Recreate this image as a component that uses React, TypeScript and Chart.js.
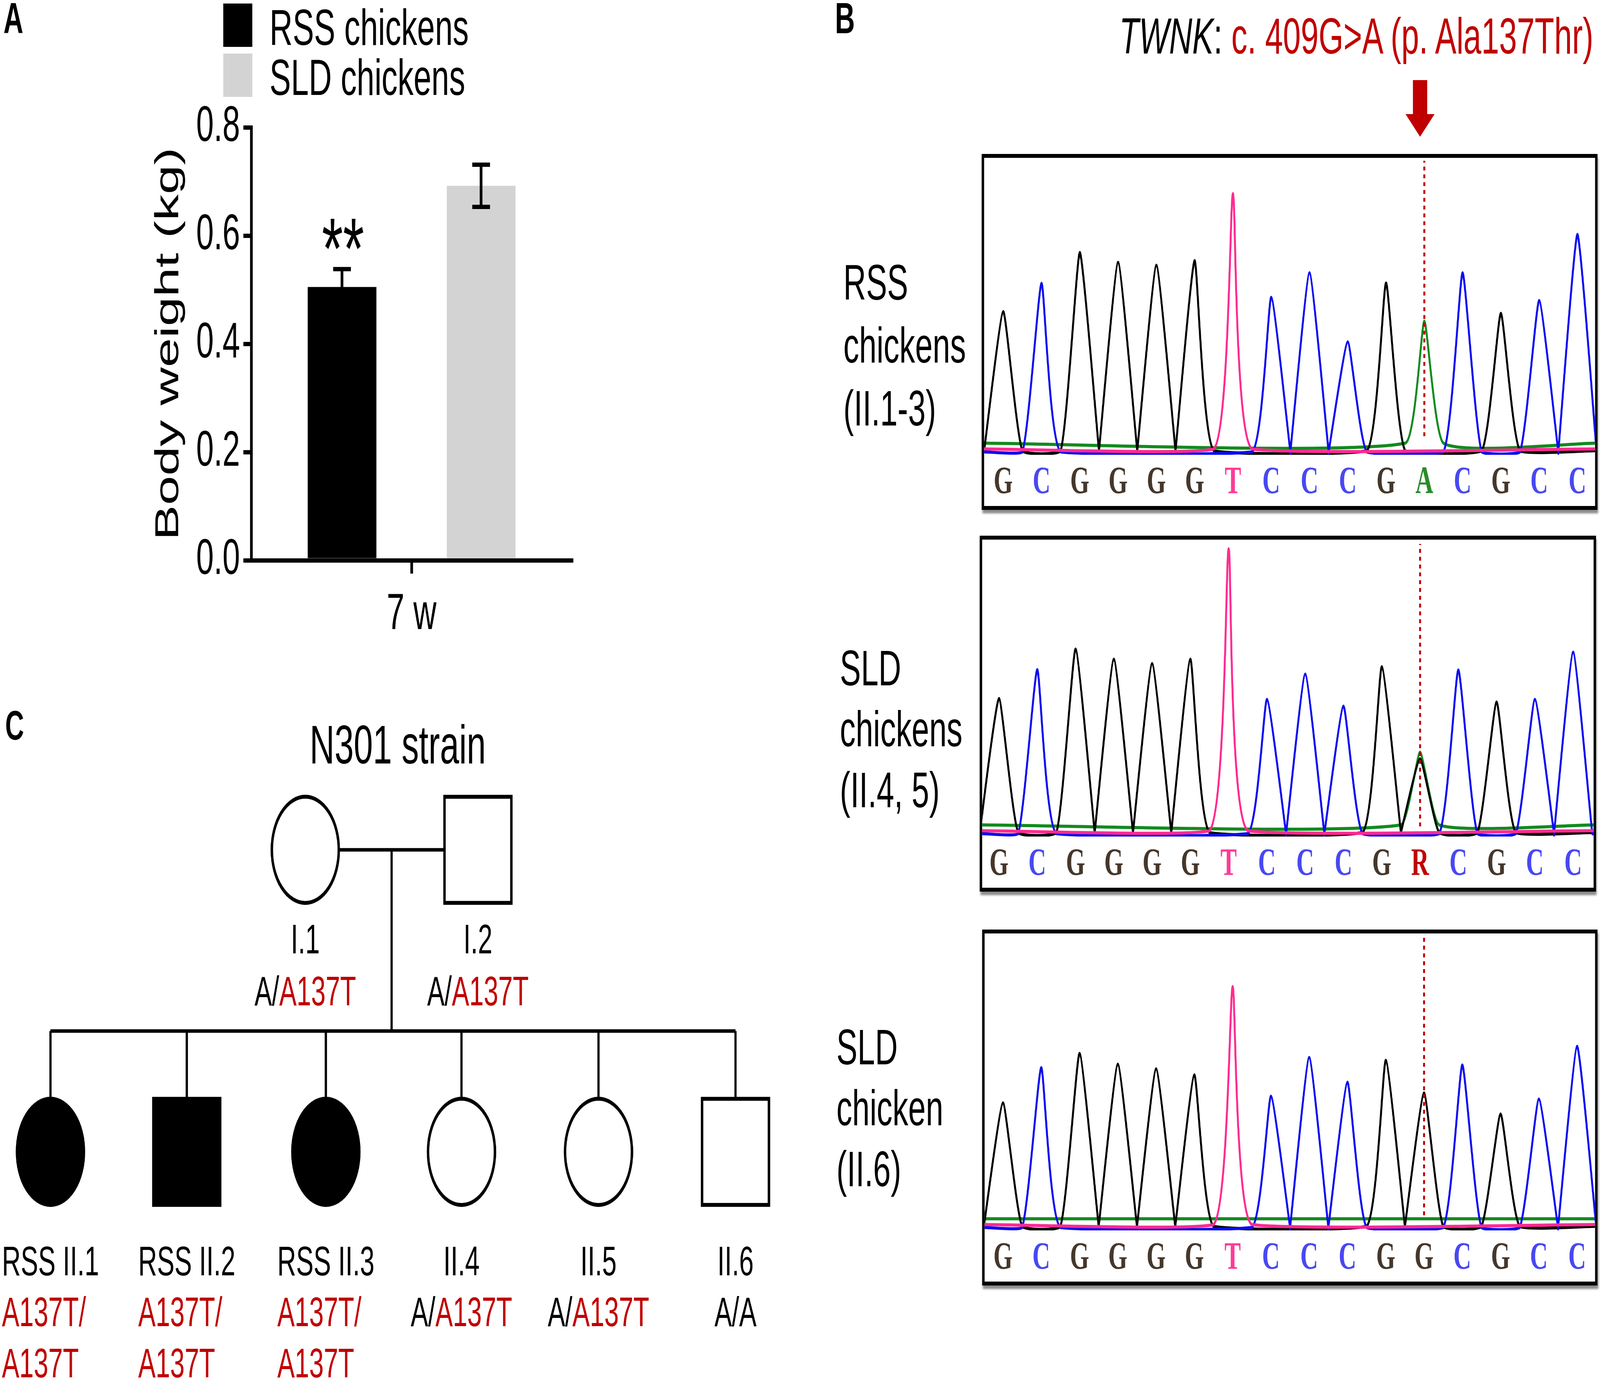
import React, { useEffect, useRef } from 'react';
import { Chart, registerables } from 'chart.js';
Chart.register(...registerables);

const PAGE_W = 6500;
const PAGE_H = 3537;
const SANS = '"Liberation Sans", Arial, Helvetica, sans-serif';
const SERIF = '"Liberation Serif", "Times New Roman", serif';
const RED = '#c00000';

// ---------------- Panel A data ----------------
const ageCategories = ['7 w'];
const groupLabels = ['RSS chickens', 'SLD chickens'];
const rssWeight = [0.505];
const rssSem = [0.033];
const sldWeight = [0.692];
const sldSem = [0.039];
const weightTicks = [0, 0.2, 0.4, 0.6, 0.8];
const significanceMark = '**';

// ---------------- Panel B data ----------------
const rssCalls = ['G', 'C', 'G', 'G', 'G', 'G', 'T', 'C', 'C', 'C', 'G', 'A', 'C', 'G', 'C', 'C'];
const rssPeakBases = ['G', 'C', 'G', 'G', 'G', 'G', 'T', 'C', 'C', 'C', 'G', 'A', 'C', 'G', 'C', 'C'];
const rssPeakHeights = [472, 569, 675, 641, 631, 647, 877, 521, 605, 368, 570, 439, 605, 466, 510, 737];

const sldHetCalls = ['G', 'C', 'G', 'G', 'G', 'G', 'T', 'C', 'C', 'C', 'G', 'R', 'C', 'G', 'C', 'C'];
const sldHetPeakBases = ['G', 'C', 'G', 'G', 'G', 'G', 'T', 'C', 'C', 'C', 'G', 'A', 'C', 'G', 'C', 'C'];
const sldHetPeakHeights = [454, 553, 624, 589, 574, 589, 968, 451, 538, 428, 563, 270, 552, 442, 451, 613];
const sldHetMinorBases = ['G'];
const sldHetMinorIndex = [11];
const sldHetMinorHeights = [247];

const sldWtCalls = ['G', 'C', 'G', 'G', 'G', 'G', 'T', 'C', 'C', 'C', 'G', 'G', 'C', 'G', 'C', 'C'];
const sldWtPeakBases = ['G', 'C', 'G', 'G', 'G', 'G', 'T', 'C', 'C', 'C', 'G', 'G', 'C', 'G', 'C', 'C'];
const sldWtPeakHeights = [418, 539, 588, 551, 535, 514, 817, 441, 574, 489, 564, 452, 548, 380, 431, 612];

const variantIndex = 11;
const sampleLabels = [
  ['RSS', 'chickens', '(II.1-3)'],
  ['SLD', 'chickens', '(II.4, 5)'],
  ['SLD', 'chicken', '(II.6)'],
];

// ---------------- Panel C data ----------------
const pedIds = ['I.1', 'I.2', 'II.1', 'II.2', 'II.3', 'II.4', 'II.5', 'II.6'];
const pedSex = ['F', 'M', 'F', 'M', 'F', 'F', 'F', 'M'];
const pedAffected = [false, false, true, true, true, false, false, false];
const pedGeneration = [1, 1, 2, 2, 2, 2, 2, 2];
const pedSlot = [1.86, 3.12, 0, 0.995, 2.01, 3.0, 4.0, 5.0];
const pedGenotype = [
  ['A', 'A137T'], ['A', 'A137T'],
  ['A137T', 'A137T'], ['A137T', 'A137T'], ['A137T', 'A137T'],
  ['A', 'A137T'], ['A', 'A137T'], ['A', 'A'],
];

// ---------------- styles ----------------
const traceColor: Record<string, string> = { G: '#000000', C: '#0c0cf0', T: '#ff2a92', A: '#138a1f' };
const letterColor: Record<string, string> = { G: '#45372b', C: '#4848f2', T: '#ff3a98', A: '#2a8c2a', R: RED };
const traceLevel: Record<string, number> = { G: -6, C: -10, T: 0, A: 20 };
const traceDrawOrder = ['T', 'C', 'G', 'A'];

const boxLayout = [
  { left: 3988, top: 394, width: 2502, xmin: -0.5, markTop: 990, markBottom: 44, labelLeft: 3426, labelBase: 767, lineGap: 161 },
  { left: 3980, top: 1371, width: 2504, xmin: -0.44, markTop: 985, markBottom: 15, labelLeft: 3412, labelBase: 1754, lineGap: 156 },
  { left: 3990, top: 2379, width: 2500, xmin: -0.48, markTop: 985, markBottom: 32, labelLeft: 3398, labelBase: 2724, lineGap: 156 },
];
const BOX_H = 911;
const BORDER = 10;

function Txt(props: any) {
  const { x, y, size, align = 'left', weight = 'normal', family = SANS, children, color = '#000' } = props;
  const transform = align === 'center' ? 'translateX(-50%)' : align === 'right' ? 'translateX(-100%)' : undefined;
  return (
    <div
      style={{
        position: 'absolute', left: x, top: y - 0.8465 * size, fontSize: size, lineHeight: `${size}px`,
        fontFamily: family, fontWeight: weight, whiteSpace: 'nowrap', transform, color,
      }}
    >
      {children}
    </div>
  );
}

function buildTrace(base: string, peakBases: string[], heights: number[], minorB: string[], minorI: number[], minorH: number[], xmin: number, xmax: number) {
  const lvl = traceLevel[base];
  const peaks: { i: number; h: number }[] = [];
  peakBases.forEach((b, i) => { if (b === base) peaks.push({ i, h: heights[i] }); });
  minorB.forEach((b, k) => { if (b === base) peaks.push({ i: minorI[k], h: minorH[k] }); });
  peaks.sort((a, b) => a.i - b.i);
  const pts: { x: number; y: number }[] = [{ x: xmin, y: lvl }];
  peaks.forEach((p) => {
    pts.push({ x: p.i - 0.5, y: lvl });
    pts.push({ x: p.i, y: p.h });
    pts.push({ x: p.i + 0.5, y: lvl });
  });
  pts.push({ x: xmax, y: lvl });
  return pts;
}

export default function App() {
  const aRef = useRef<HTMLCanvasElement>(null);
  const b0 = useRef<HTMLCanvasElement>(null);
  const b1 = useRef<HTMLCanvasElement>(null);
  const b2 = useRef<HTMLCanvasElement>(null);
  const cRef = useRef<HTMLCanvasElement>(null);

  const vw = typeof window !== 'undefined' && window.innerWidth ? window.innerWidth : PAGE_W;
  const vh = typeof window !== 'undefined' && window.innerHeight ? window.innerHeight : PAGE_H;
  const sx = vw / PAGE_W;
  const sy = vh / PAGE_H;

  useEffect(() => {
    const charts: Chart[] = [];

    // ---------- Panel A ----------
    const errorBarPlugin = {
      id: 'errorBars',
      afterDatasetsDraw(chart: any) {
        const { ctx } = chart;
        const y = chart.scales.y;
        chart.data.datasets.forEach((ds: any, di: number) => {
          const meta = chart.getDatasetMeta(di);
          meta.data.forEach((bar: any, i: number) => {
            const m = ds.data[i];
            const e = ds.errors[i];
            const yt = y.getPixelForValue(m + e);
            const yb = y.getPixelForValue(m - e);
            ctx.save();
            ctx.strokeStyle = '#000';
            ctx.lineWidth = 11;
            ctx.beginPath();
            ctx.moveTo(bar.x, yb); ctx.lineTo(bar.x, yt);
            ctx.moveTo(bar.x - 36, yt); ctx.lineTo(bar.x + 36, yt);
            ctx.moveTo(bar.x - 36, yb); ctx.lineTo(bar.x + 36, yb);
            ctx.stroke();
            ctx.restore();
          });
        });
        const bar0 = chart.getDatasetMeta(0).data[0];
        const ytop = y.getPixelForValue(rssWeight[0] + rssSem[0]);
        ctx.save();
        ctx.font = `220px ${SANS}`;
        ctx.fillStyle = '#000';
        ctx.textAlign = 'center';
        ctx.textBaseline = 'alphabetic';
        ctx.fillText(significanceMark, bar0.x + 4, ytop + 23);
        ctx.restore();
      },
    };

    charts.push(new Chart(aRef.current!, {
      type: 'bar',
      data: {
        labels: ageCategories,
        datasets: [
          { label: groupLabels[0], data: rssWeight, errors: rssSem, backgroundColor: '#000000', categoryPercentage: 0.868, barPercentage: 0.494 } as any,
          { label: groupLabels[1], data: sldWeight, errors: sldSem, backgroundColor: '#d3d3d3', categoryPercentage: 0.868, barPercentage: 0.494 } as any,
        ],
      },
      options: {
        animation: false,
        responsive: false,
        devicePixelRatio: 1,
        layout: { autoPadding: false, padding: { left: 606, top: 326, right: 77, bottom: 66 } },
        plugins: { legend: { display: false }, tooltip: { enabled: false }, title: { display: false } },
        scales: {
          x: {
            grid: { display: true, offset: false, drawOnChartArea: false, drawTicks: true, tickLength: 34, lineWidth: 11, color: '#000' },
            border: { display: true, width: 11, color: '#000' },
            ticks: { font: { family: SANS, size: 130 }, color: '#000', padding: 28 },
            afterFit: (sc: any) => { sc.height = 200; },
          },
          y: {
            min: 0,
            max: 0.8,
            afterBuildTicks: (sc: any) => { sc.ticks = weightTicks.map((v) => ({ value: v })); },
            ticks: { font: { family: SANS, size: 128 }, color: '#000', padding: 14, callback: (v: any) => Number(v).toFixed(1) },
            grid: { display: true, drawOnChartArea: false, drawTicks: true, tickLength: 32, lineWidth: 11, color: '#000' },
            border: { display: true, width: 11, color: '#000' },
            title: { display: true, text: 'Body weight (kg)', font: { family: SANS, size: 135 }, color: '#000', padding: { top: 0, bottom: 0 } },
            afterFit: (sc: any) => { sc.width = 415; },
          },
        },
      } as any,
      plugins: [errorBarPlugin],
    }));

    // ---------- Panel B ----------
    const samples = [
      { calls: rssCalls, bases: rssPeakBases, heights: rssPeakHeights, mb: [] as string[], mi: [] as number[], mh: [] as number[] },
      { calls: sldHetCalls, bases: sldHetPeakBases, heights: sldHetPeakHeights, mb: sldHetMinorBases, mi: sldHetMinorIndex, mh: sldHetMinorHeights },
      { calls: sldWtCalls, bases: sldWtPeakBases, heights: sldWtPeakHeights, mb: [] as string[], mi: [] as number[], mh: [] as number[] },
    ];
    [b0, b1, b2].forEach((ref, k) => {
      const smp = samples[k];
      const L = boxLayout[k];
      const innerW = L.width - 2 * BORDER;
      const spacing = 155.5;
      const xmin = L.xmin;
      const xmax = xmin + innerW / spacing;
      const datasets: any[] = [
        {
          data: [{ x: variantIndex, y: L.markBottom }, { x: variantIndex, y: L.markTop }],
          borderColor: RED, borderWidth: 8, borderDash: [10, 10], showLine: true, pointRadius: 0,
        },
      ];
      traceDrawOrder.forEach((b) => {
        datasets.push({
          data: buildTrace(b, smp.bases, smp.heights, smp.mb, smp.mi, smp.mh, xmin, xmax),
          borderColor: traceColor[b], borderWidth: 8, showLine: true, pointRadius: 0, tension: 0.15,
        });
      });
      charts.push(new Chart(ref.current!, {
        type: 'scatter',
        data: { datasets },
        options: {
          animation: false,
          responsive: false,
          devicePixelRatio: 1,
          layout: { autoPadding: false, padding: 0 },
          plugins: { legend: { display: false }, tooltip: { enabled: false } },
          scales: {
            x: {
              type: 'linear', min: xmin, max: xmax,
              grid: { display: false, drawTicks: false },
              border: { display: false },
              afterBuildTicks: (sc: any) => { sc.ticks = smp.calls.map((_, i) => ({ value: i })); },
              afterFit: (sc: any) => { sc.height = 131; },
              ticks: {
                autoSkip: false, maxRotation: 0, padding: 12,
                font: { family: SERIF, size: 100, weight: 'bold' },
                color: (ctx: any) => letterColor[smp.calls[ctx.index]] || '#000',
                callback: (v: any) => smp.calls[Math.round(v)],
              },
            },
            y: { display: false, min: -20, max: 1000 },
          },
        } as any,
      }));
    });

    // ---------- Panel C ----------
    const colorOf = (a: string) => (a === 'A' ? '#000' : RED);
    const genotypeLines = (g: string[]) => {
      if (g[0] !== 'A' && g[1] !== 'A') {
        return [[{ text: g[0] + '/', color: colorOf(g[0]) }], [{ text: g[1], color: colorOf(g[1]) }]];
      }
      return [[{ text: g[0] + '/', color: colorOf(g[0]) }, { text: g[1], color: colorOf(g[1]) }]];
    };
    const pedLabelPlugin = {
      id: 'pedLabels',
      afterDatasetsDraw(chart: any) {
        const { ctx } = chart;
        const { x, y } = chart.scales;
        ctx.save();
        ctx.font = `106px ${SANS}`;
        ctx.textBaseline = 'alphabetic';
        ctx.textAlign = 'left';
        pedIds.forEach((id, i) => {
          const px = x.getPixelForValue(pedSlot[i]);
          const py = y.getPixelForValue(pedGeneration[i]);
          const gen1 = pedGeneration[i] === 1;
          const idText = pedAffected[i] ? `RSS ${id}` : id;
          const first = gen1 ? 265 : 316;
          const step = gen1 ? 133 : 130.5;
          const idW = ctx.measureText(idText).width;
          ctx.fillStyle = '#000';
          ctx.fillText(idText, px - idW / 2, py + first);
          genotypeLines(pedGenotype[i]).forEach((segs, li) => {
            const total = segs.reduce((acc, g) => acc + ctx.measureText(g.text).width, 0);
            let lx = pedAffected[i] ? px - idW / 2 : px - total / 2;
            segs.forEach((g) => {
              ctx.fillStyle = g.color;
              ctx.fillText(g.text, lx, py + first + step * (li + 1));
              lx += ctx.measureText(g.text).width;
            });
          });
        });
        ctx.restore();
      },
    };

    const children = pedIds.map((_, i) => i).filter((i) => pedGeneration[i] === 2);
    const parents = pedIds.map((_, i) => i).filter((i) => pedGeneration[i] === 1);
    const sibLevel = 1.6;
    const mid = (pedSlot[parents[0]] + pedSlot[parents[1]]) / 2;
    const childSlots = children.map((i) => pedSlot[i]);
    const lineSets: { x: number; y: number }[][] = [
      [{ x: pedSlot[parents[0]], y: 1 }, { x: pedSlot[parents[1]], y: 1 }],
      [{ x: mid, y: 1 }, { x: mid, y: sibLevel }],
      [{ x: Math.min(...childSlots), y: sibLevel }, { x: Math.max(...childSlots), y: sibLevel }],
      ...children.map((i) => [{ x: pedSlot[i], y: sibLevel }, { x: pedSlot[i], y: 2 }]),
    ];
    const pedDatasets: any[] = [
      {
        data: pedIds.map((_, i) => ({ x: pedSlot[i], y: pedGeneration[i] })),
        pointStyle: pedSex.map((sxx) => (sxx === 'F' ? 'circle' : 'rect')),
        pointRadius: pedSex.map((sxx) => (sxx === 'F' ? 136 : 192)),
        pointBackgroundColor: pedAffected.map((a) => (a ? '#000' : '#fff')),
        pointBorderColor: '#000',
        pointBorderWidth: 10,
        showLine: false,
        clip: false,
      },
      ...lineSets.map((d) => ({ data: d, showLine: true, pointRadius: 0, borderColor: '#000', borderWidth: 9, clip: false })),
    ];
    charts.push(new Chart(cRef.current!, {
      type: 'scatter',
      data: { datasets: pedDatasets },
      options: {
        animation: false,
        responsive: false,
        devicePixelRatio: 1,
        layout: { autoPadding: false, padding: 0 },
        plugins: { legend: { display: false }, tooltip: { enabled: false } },
        scales: {
          x: { display: false, type: 'linear', min: -0.3683, max: 5.5606 },
          y: { display: false, type: 'linear', min: 0.4502, max: 2.762, reverse: true },
        },
      } as any,
      plugins: [pedLabelPlugin],
    }));

    return () => charts.forEach((c) => c.destroy());
  }, []);

  const boxRefs = [b0, b1, b2];

  return (
    <div style={{ position: 'absolute', left: 0, top: 0, width: PAGE_W * sx, height: PAGE_H * sy, overflow: 'hidden', background: '#fff' }}>
      <div style={{ position: 'absolute', left: 0, top: 0, width: PAGE_W, height: PAGE_H, background: '#fff', transform: `scale(${sx}, ${sy})`, transformOrigin: '0 0' }}>
        {/* Panel labels */}
        <Txt x={14} y={86} size={112} weight="bold">A</Txt>
        <Txt x={3392} y={86} size={112} weight="bold">B</Txt>
        <Txt x={21} y={1893} size={106} weight="bold">C</Txt>

        {/* Panel A legend */}
        <div style={{ position: 'absolute', left: 907, top: 9, width: 118, height: 111, background: '#000' }} />
        <div style={{ position: 'absolute', left: 907, top: 137, width: 118, height: 111, background: '#d3d3d3' }} />
        <Txt x={1095} y={115} size={130}>{groupLabels[0]}</Txt>
        <Txt x={1095} y={243} size={130}>{groupLabels[1]}</Txt>
        <canvas ref={aRef} width={2400} height={1700} style={{ position: 'absolute', left: 0, top: 0, width: 2400, height: 1700 }} />

        {/* Panel B */}
        <Txt x={6473} y={137} size={130} align="right">
          <i>TWNK</i>: <span style={{ color: RED }}>c. 409G&gt;A (p. Ala137Thr)</span>
        </Txt>
        <svg style={{ position: 'absolute', left: 5700, top: 200, width: 140, height: 160 }} width={140} height={160}>
          <polygon points="40,5 98,5 98,92 128,92 69,150 10,92 40,92" fill={RED} />
        </svg>
        {boxLayout.map((L, k) => (
          <React.Fragment key={k}>
            {sampleLabels[k].map((t, li) => (
              <Txt key={li} x={L.labelLeft} y={L.labelBase + li * L.lineGap} size={128}>{t}</Txt>
            ))}
            <div
              style={{
                position: 'absolute', left: L.left, top: L.top, width: L.width, height: BOX_H,
                border: `${BORDER}px solid #000`, boxSizing: 'border-box', background: '#fff',
                boxShadow: '3px 9px 6px rgba(0,0,0,0.45)',
              }}
            >
              <canvas
                ref={boxRefs[k]}
                width={L.width - 2 * BORDER}
                height={BOX_H - 2 * BORDER}
                style={{ display: 'block', width: L.width - 2 * BORDER, height: BOX_H - 2 * BORDER }}
              />
            </div>
          </React.Fragment>
        ))}

        {/* Panel C */}
        <Txt x={1616} y={1955} size={140} align="center">N301 strain</Txt>
        <canvas ref={cRef} width={3300} height={1787} style={{ position: 'absolute', left: 0, top: 1750, width: 3300, height: 1787 }} />
      </div>
    </div>
  );
}
